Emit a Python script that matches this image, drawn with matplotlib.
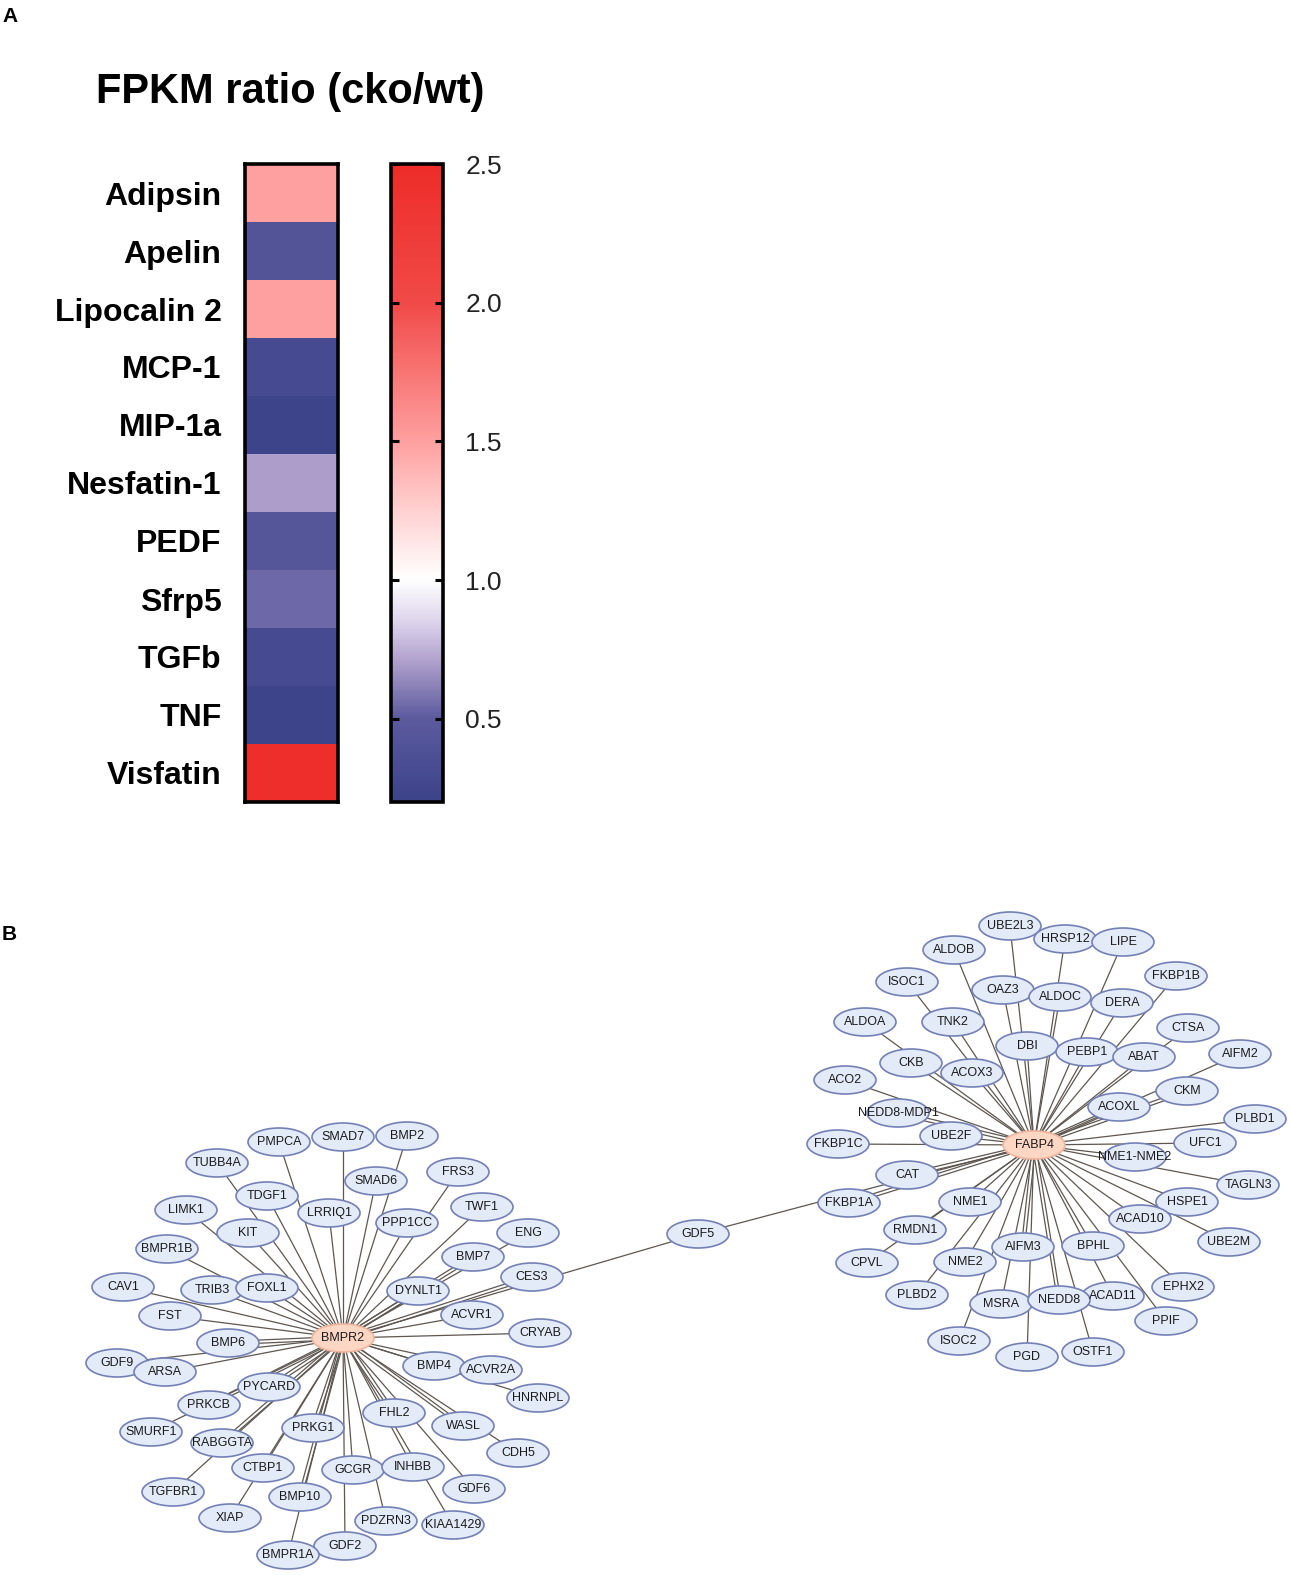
import numpy as np
import matplotlib
matplotlib.use("Agg")
import matplotlib.pyplot as plt
from matplotlib.colors import LinearSegmentedColormap, Normalize
from matplotlib.patches import Ellipse

plt.rcParams['font.family'] = ['Liberation Sans', 'DejaVu Sans']

# --- panel A data ---
genes = ['Adipsin', 'Apelin', 'Lipocalin 2', 'MCP-1', 'MIP-1a', 'Nesfatin-1',
         'PEDF', 'Sfrp5', 'TGFb', 'TNF', 'Visfatin']
ratio = [1.5, 0.42, 1.5, 0.3, 0.22, 0.7, 0.45, 0.55, 0.3, 0.22, 2.45]
cbar_ticks = [0.5, 1.0, 1.5, 2.0, 2.5]
vmin, vmax = 0.2, 2.5

# --- panel B data: network (hub, node names, layout in pixels) ---
hub_names = ['BMPR2', 'FABP4']
hub_x = [343, 1034]
hub_y = [1338, 1145]

bmpr2_nodes = ['PMPCA', 'SMAD7', 'BMP2', 'TUBB4A', 'SMAD6', 'FRS3', 'TDGF1', 'LRRIQ1',
               'PPP1CC', 'TWF1', 'LIMK1', 'KIT', 'ENG', 'BMPR1B', 'BMP7', 'CES3', 'CAV1',
               'TRIB3', 'FOXL1', 'DYNLT1', 'FST', 'ACVR1', 'CRYAB', 'BMP6', 'GDF9', 'ARSA',
               'BMP4', 'ACVR2A', 'PYCARD', 'PRKCB', 'HNRNPL', 'FHL2', 'WASL', 'SMURF1',
               'PRKG1', 'RABGGTA', 'CDH5', 'CTBP1', 'GCGR', 'INHBB', 'GDF6', 'TGFBR1',
               'BMP10', 'XIAP', 'PDZRN3', 'KIAA1429', 'GDF2', 'BMPR1A']
bmpr2_x = [279, 343, 407, 217, 376, 458, 267, 329, 407, 482, 186, 248, 528, 167, 473, 532,
           123, 212, 267, 418, 170, 472, 540, 228, 117, 165, 434, 491, 269, 209, 538, 394,
           463, 151, 313, 222, 518, 263, 353, 413, 474, 173, 300, 230, 386, 453, 345, 288]
bmpr2_y = [1142, 1137, 1136, 1163, 1181, 1172, 1196, 1213, 1223, 1207, 1210, 1233, 1233,
           1249, 1257, 1277, 1287, 1290, 1288, 1291, 1316, 1315, 1333, 1343, 1363, 1372,
           1366, 1370, 1387, 1405, 1398, 1413, 1426, 1432, 1428, 1443, 1453, 1468, 1470,
           1467, 1489, 1492, 1497, 1518, 1521, 1525, 1546, 1555]
bmpr2_multi = ['BMP7', 'CES3', 'PYCARD', 'PRKCB', 'RABGGTA', 'BMP10', 'FHL2', 'WASL',
               'BMP6', 'DYNLT1', 'PRKG1']

fabp4_nodes = ['UBE2L3', 'HRSP12', 'LIPE', 'ALDOB', 'FKBP1B', 'ISOC1', 'OAZ3', 'ALDOC',
               'DERA', 'ALDOA', 'TNK2', 'CTSA', 'DBI', 'PEBP1', 'ABAT', 'AIFM2', 'CKB',
               'ACOX3', 'ACO2', 'CKM', 'NEDD8-MDP1', 'ACOXL', 'PLBD1', 'UBE2F', 'FKBP1C',
               'UFC1', 'NME1-NME2', 'CAT', 'TAGLN3', 'FKBP1A', 'NME1', 'HSPE1', 'ACAD10',
               'RMDN1', 'UBE2M', 'AIFM3', 'BPHL', 'CPVL', 'NME2', 'EPHX2', 'PLBD2',
               'ACAD11', 'MSRA', 'NEDD8', 'PPIF', 'ISOC2', 'OSTF1', 'PGD']
fabp4_x = [1010, 1065, 1123, 954, 1176, 907, 1003, 1060, 1122, 865, 953, 1188, 1027, 1087,
           1144, 1240, 911, 972, 845, 1187, 898, 1119, 1255, 951, 838, 1205, 1135, 907,
           1248, 849, 970, 1187, 1140, 915, 1229, 1023, 1093, 867, 965, 1183, 917, 1113,
           1001, 1059, 1166, 959, 1093, 1027]
fabp4_y = [926, 939, 942, 950, 976, 982, 990, 997, 1003, 1022, 1022, 1028, 1046, 1052,
           1057, 1054, 1063, 1073, 1080, 1091, 1113, 1107, 1119, 1136, 1144, 1143, 1157,
           1175, 1185, 1203, 1202, 1202, 1219, 1230, 1242, 1247, 1246, 1263, 1262, 1287,
           1295, 1296, 1304, 1300, 1321, 1341, 1352, 1357]
fabp4_multi = ['CAT', 'FKBP1A', 'CKM', 'ACOXL', 'NEDD8-MDP1', 'AIFM3', 'NEDD8']

bridge_name = 'GDF5'
bridge_x, bridge_y = 698, 1234

W, H = 1291, 1575
fig = plt.figure(figsize=(W / 100, H / 100), dpi=100)

# --- B: network, drawn in pixel coordinates over the whole figure ---
net = fig.add_axes([0, 0, 1, 1])
net.set_xlim(0, W)
net.set_ylim(H, 0)
net.axis('off')

edge_col = '#5e5650'
node_w, node_h = 62, 28


def draw_edge(x0, y0, x1, y1, double=False):
    if double:
        dx, dy = x1 - x0, y1 - y0
        n = np.hypot(dx, dy)
        ox, oy = -dy / n * 1.6, dx / n * 1.6
        for s in (-1, 1):
            net.plot([x0 + s * ox, x1 + s * ox], [y0 + s * oy, y1 + s * oy],
                     color=edge_col, lw=0.9, zorder=1)
    else:
        net.plot([x0, x1], [y0, y1], color=edge_col, lw=0.9, zorder=1)


def draw_node(x, y, label, hub=False):
    fc = '#fdd6c4' if hub else '#e3ebf8'
    ec = '#f0b49c' if hub else '#7380b6'
    net.add_patch(Ellipse((x, y), node_w, node_h, facecolor=fc, edgecolor=ec,
                          lw=1.2, zorder=2))
    net.text(x, y, label, ha='center', va='center', fontsize=9,
             color='#1a1a1a', zorder=3)


clusters = [(bmpr2_nodes, bmpr2_x, bmpr2_y, bmpr2_multi),
            (fabp4_nodes, fabp4_x, fabp4_y, fabp4_multi)]
for (names, xs, ys, multi), hx, hy in zip(clusters, hub_x, hub_y):
    for nm, x, y in zip(names, xs, ys):
        draw_edge(hx, hy, x, y, double=nm in multi)
for hx, hy in zip(hub_x, hub_y):
    draw_edge(hx, hy, bridge_x, bridge_y)

for names, xs, ys, _ in clusters:
    for nm, x, y in zip(names, xs, ys):
        draw_node(x, y, nm)
draw_node(bridge_x, bridge_y, bridge_name)
for nm, x, y in zip(hub_names, hub_x, hub_y):
    draw_node(x, y, nm, hub=True)

# --- A: heatmap ---
def pos(v):
    return (v - vmin) / (vmax - vmin)


cmap = LinearSegmentedColormap.from_list('fpkm', [
    (0.0, '#3c4389'),
    (pos(0.5), '#5c5a9f'),
    (pos(0.7), '#ae9fcb'),
    (pos(0.85), '#ddd4ec'),
    (pos(1.0), '#ffffff'),
    (pos(1.25), '#ffd0d0'),
    (pos(1.5), '#ffa0a0'),
    (pos(2.0), '#f04a48'),
    (1.0, '#ee2c28')])
norm = Normalize(vmin=vmin, vmax=vmax)

top_px, bot_px = 164, 802
hm = fig.add_axes([245 / W, 1 - bot_px / H, 93 / W, (bot_px - top_px) / H])
hm.imshow(np.array(ratio).reshape(-1, 1), cmap=cmap, norm=norm, aspect='auto',
          interpolation='nearest')
hm.set_xticks([])
hm.set_yticks(range(len(genes)))
hm.set_yticklabels(genes, fontsize=23, fontweight='bold')
hm.tick_params(axis='y', length=0, pad=17)
for sp in hm.spines.values():
    sp.set_linewidth(2.6)

cax = fig.add_axes([391 / W, 1 - bot_px / H, 52 / W, (bot_px - top_px) / H])
cb = fig.colorbar(plt.cm.ScalarMappable(norm=norm, cmap=cmap), cax=cax, ticks=cbar_ticks)
cb.outline.set_linewidth(2.6)
cb.ax.set_yticklabels([f'{t:.1f}' for t in cbar_ticks], fontsize=19, color='#222222')
cb.ax.tick_params(axis='y', direction='in', length=6, width=2.2, pad=16,
                  left=True, right=True)

fig.text(290 / W, 1 - 92 / H, 'FPKM ratio (cko/wt)', ha='center', va='center',
         fontsize=30, fontweight='bold')

fig.text(2 / W, 1 - 16 / H, 'A', ha='left', va='center', fontsize=15, fontweight='bold')
fig.text(2 / W, 1 - 935 / H, 'B', ha='left', va='center', fontsize=15, fontweight='bold')

fig.savefig('out.png', dpi=100)
